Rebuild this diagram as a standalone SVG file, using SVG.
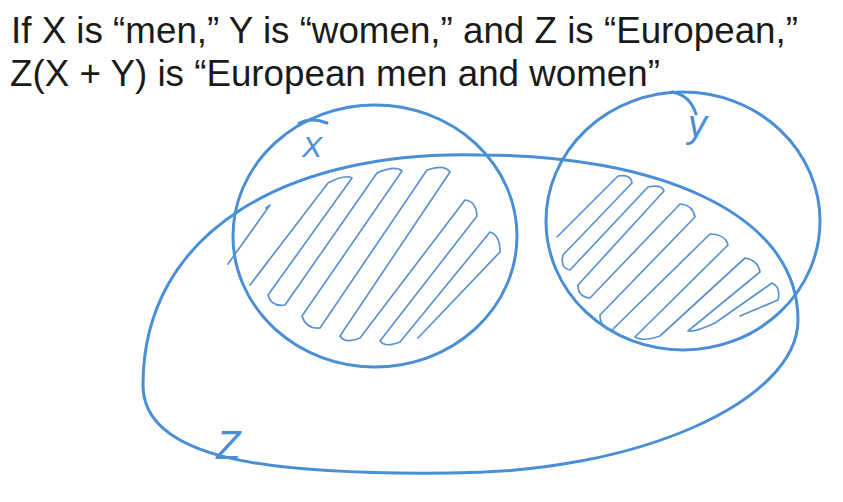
<svg xmlns="http://www.w3.org/2000/svg" width="843" height="502" viewBox="0 0 843 502">
<style>
.title{font-family:"Liberation Sans",Arial,sans-serif;font-size:36px;fill:#1a1a1a}
.outline{fill:none;stroke:#4a8fd6;stroke-width:3;stroke-linecap:round;stroke-linejoin:round}
.hatch{fill:none;stroke:#5a92cf;stroke-width:1.7;stroke-linecap:round;stroke-linejoin:round}
.hand{font-family:"Liberation Sans",Arial,sans-serif;font-style:italic;fill:#4a8fd6}
</style>
<rect width="843" height="502" fill="#ffffff"/>
<g id="title">
<text class="title" x="11" y="43" textLength="787" lengthAdjust="spacingAndGlyphs">If X is “men,” Y is “women,” and Z is “European,”</text>
<text class="title" x="10" y="86" textLength="650" lengthAdjust="spacingAndGlyphs">Z(X + Y) is “European men and women”</text>
</g>
<g id="Z">
<path class="outline" d="M480,155 C650,155 798,210 798,320 C798,400 640,473 450,473 C270,475 143,460 143,385 C143,230 290,150 480,155 Z"/>
<text class="hand" x="216" y="459" font-size="40">Z</text>
</g>
<g id="X">
<ellipse class="outline" cx="375" cy="236" rx="142" ry="131"/>
<path class="outline" d="M299,123 Q312,117 327,123" stroke-width="2"/>
<text class="hand" x="302" y="157" font-size="30">X</text>
<path class="hatch" d="M228,264 L270,205 L266,208"/>
<path class="hatch" d="M250,285 L328,183 Q345,174 352,178 L268,295 Q271,307 285,305 L377,173 Q395,165 402,171 L302,316 Q306,329 320,328 L427,170 Q444,164 450,172 L340,336 Q345,344 360,338 L465,200 Q476,201 477,216 L380,341 Q385,348 400,342 L490,232 Q500,235 500,252 L418,338"/>
</g>
<g id="Y">
<ellipse class="outline" cx="683" cy="221" rx="137" ry="129"/>
<path class="outline" d="M672,92 Q690,95 696,114" stroke-width="2"/>
<text class="hand" x="688" y="137" font-size="38">y</text>
<path class="hatch" d="M557,237 L618,176 Q631,174 632,183 L563,255 Q560,268 570,270 L648,187 Q662,184 664,191 L578,285 Q578,297 590,298 L680,204 Q693,205 695,217 L600,315 Q600,328 612,330 L710,234 Q725,234 728,245 L635,337 Q642,342 660,336 L745,258 Q758,260 760,272 L688,331 Q696,332 715,323 L772,283 Q781,287 778,300 L740,316"/>
</g>
</svg>
